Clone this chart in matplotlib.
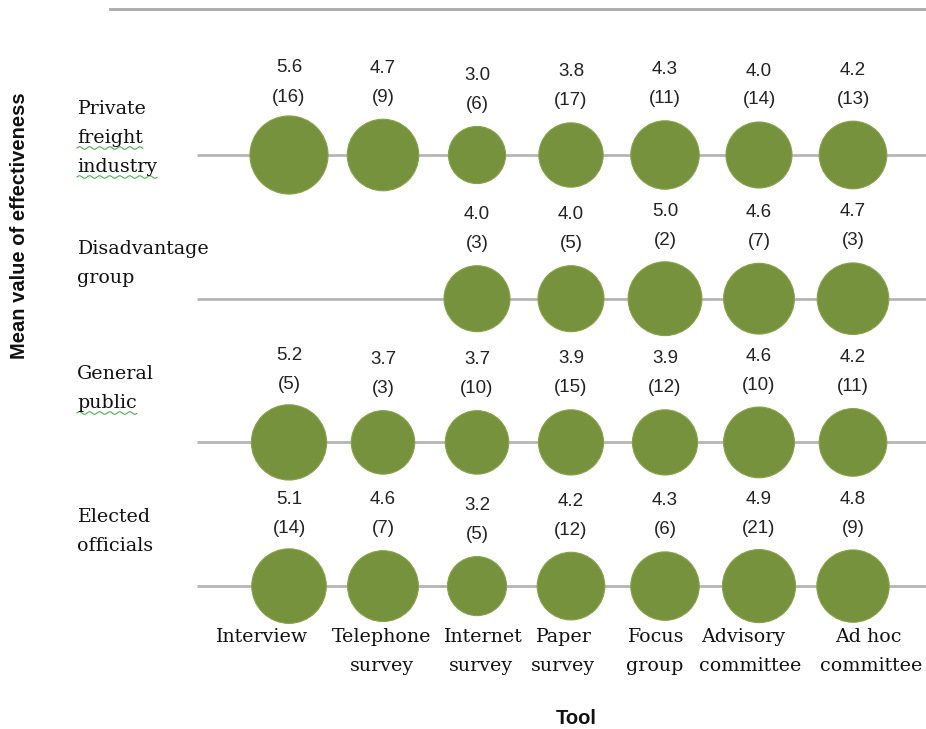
import numpy as np
import matplotlib
matplotlib.use("Agg")
import matplotlib.pyplot as plt
from matplotlib.lines import Line2D

# ---------------- data ----------------
tools = ["Interview", "Telephone survey", "Internet survey", "Paper survey",
         "Focus group", "Advisory committee", "Ad hoc committee"]
groups = ["Private freight industry", "Disadvantage group", "General public", "Elected officials"]

private_mean = [5.6, 4.7, 3.0, 3.8, 4.3, 4.0, 4.2]
private_n = [16, 9, 6, 17, 11, 14, 13]
disadv_mean = [None, None, 4.0, 4.0, 5.0, 4.6, 4.7]
disadv_n = [None, None, 3, 5, 2, 7, 3]
general_mean = [5.2, 3.7, 3.7, 3.9, 3.9, 4.6, 4.2]
general_n = [5, 3, 10, 15, 12, 10, 11]
elected_mean = [5.1, 4.6, 3.2, 4.2, 4.3, 4.9, 4.8]
elected_n = [14, 7, 5, 12, 6, 21, 9]

means = [private_mean, disadv_mean, general_mean, elected_mean]
counts = [private_n, disadv_n, general_n, elected_n]

# ---------------- layout ----------------
W, H, DPI = 926, 729, 100
X0, DX = 289.0, 94.0      # pixel of first tool, spacing
Y0, DY = 155.0, 143.7     # pixel of first row, spacing
GREEN = "#76923C"
SERIF = "DejaVu Serif"
SANS = "Liberation Sans"

fig = plt.figure(figsize=(W / DPI, H / DPI), dpi=DPI)
ax = fig.add_axes([0, 0, 1, 1])
ax.set_xlim((0 - X0) / DX, (W - X0) / DX)
ax.set_ylim((H - Y0) / DY, (0 - Y0) / DY)
ax.axis("off")

def fx(px):
    return px / W

def fy(py):
    return 1 - py / H

# grey row lines
line_start = (197 - X0) / DX
for r in range(len(groups)):
    ax.hlines(r, line_start, (W - X0) / DX, color="#b5b5b5", lw=2, zorder=1)

# top line
fig.add_artist(Line2D([fx(110), fx(926)], [fy(9), fy(9)], color="#a8a8a8", lw=2,
                      transform=fig.transFigure))

# bubbles (area proportional to mean value)
PX_PER_PT = DPI / 72.0
for r, (mv, nv) in enumerate(zip(means, counts)):
    xs = [i for i, v in enumerate(mv) if v is not None]
    vals = np.array([mv[i] for i in xs])
    diam_px = 33.0 * np.sqrt(vals)
    sizes = (diam_px / PX_PER_PT) ** 2
    ax.scatter(xs, [r] * len(xs), s=sizes, color=GREEN, edgecolor="#86a24a",
               linewidth=0.8, zorder=3)
    for i, v, d in zip(xs, vals, diam_px):
        rad = min(d / 2, 36)
        ax.annotate(f"({nv[i]})", (i, r), xytext=(0, (rad + 22) / PX_PER_PT),
                    textcoords="offset points", ha="center", va="center",
                    fontsize=13.5, family=SANS, color="#222222")
        ax.annotate(f"{v:.1f}", (i, r), xytext=(0, (rad + 51) / PX_PER_PT),
                    textcoords="offset points", ha="center", va="center",
                    fontsize=13.5, family=SANS, color="#222222")

# row labels
row_lines = [["Private", "freight", "industry"], ["Disadvantage", "group"],
             ["General", "public"], ["Elected", "officials"]]
row_baselines = [[114, 143, 172], [254, 283], [379, 408], [522, 551]]
squiggle = {(0, 1), (0, 2), (2, 1)}
for r, (lines, bls) in enumerate(zip(row_lines, row_baselines)):
    for k, (txt, bl) in enumerate(zip(lines, bls)):
        t = fig.text(fx(77), fy(bl), txt, ha="left", va="baseline",
                     fontsize=13.7, family=SERIF, color="#111111")
        if (r, k) in squiggle:
            fig.canvas.draw()
            bb = t.get_window_extent()
            xs = np.linspace(bb.x0, bb.x1, 60)
            yy = (H - bl - 5) + 1.3 * np.sin((xs - bb.x0) / 1.6)
            fig.add_artist(Line2D(xs / W, yy / H, color="#4caf50", lw=0.8,
                                  transform=fig.transFigure))

# tool labels (each line positioned around its tool column)
tool_lines = [["Interview"], ["Telephone", "survey"], ["Internet", "survey"],
              ["Paper", "survey"], ["Focus", "group"], ["Advisory", "committee"],
              ["Ad hoc", "committee"]]
tool_offsets = [[-28], [-1, -1], [5, 4], [-8, -8], [-10, -10], [-16, -9], [15, 18]]
label_baselines = [642, 671]
for i, (lines, offs) in enumerate(zip(tool_lines, tool_offsets)):
    for k, (txt, off) in enumerate(zip(lines, offs)):
        fig.text(fx(X0 + DX * i + off), fy(label_baselines[k]), txt, ha="center",
                 va="baseline", fontsize=13.7, family=SERIF, color="#111111")

# axis titles
fig.text(fx(20), fy(226), "Mean value of effectiveness", rotation=90, ha="center",
         va="center", fontsize=14.5, fontweight="bold", family=SANS, color="#111111")
fig.text(fx(576), fy(718), "Tool", ha="center", va="center", fontsize=14.5,
         fontweight="bold", family=SANS, color="#111111")

fig.savefig("out.png", dpi=DPI, facecolor="white")
